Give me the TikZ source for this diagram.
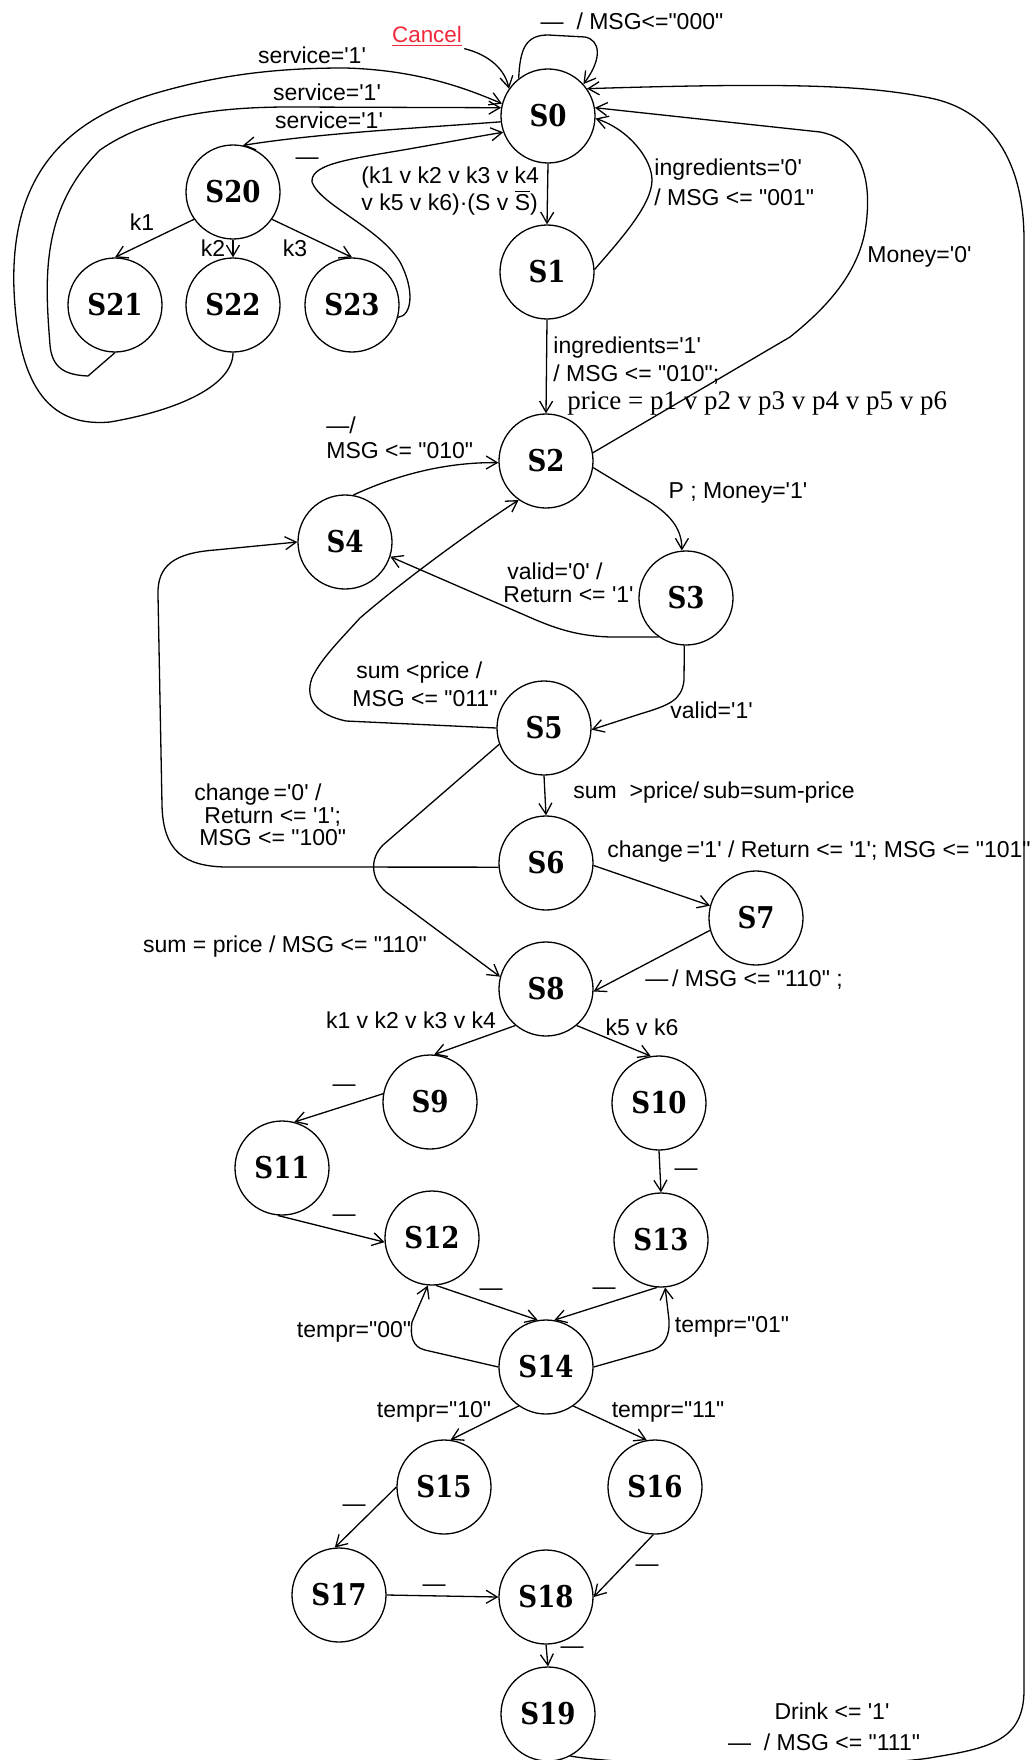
\documentclass[tikz,border=0pt]{standalone}
\usepackage{fontspec}
\setmainfont{Liberation Sans}[Ligatures=TeXOff]
\newfontfamily\statefont{DejaVu Serif}[FakeStretch=0.87]
\newfontfamily\pricefont{Liberation Serif}[Ligatures=TeXOff]
\usetikzlibrary{arrows.meta}
\definecolor{cancelred}{RGB}{240,40,60}

\begin{document}
\begin{tikzpicture}[x=0.5pt,y=-0.5pt,
  st/.style={circle,draw,line width=0.65pt,minimum size=47pt,inner sep=0pt,
    font=\statefont\bfseries\fontsize{15}{18}\selectfont},
  tr/.style={draw,line width=0.65pt,-{Straight Barb[length=5.5pt,width=6.5pt]}},
  lbl/.style={inner sep=0pt,font=\fontsize{11.5}{13}\selectfont},
  ml/.style={lbl,align=left,anchor=west},
  pricelbl/.style={inner sep=0pt,anchor=west,font=\pricefont\fontsize{13.5}{16}\selectfont},
  cancellbl/.style={inner sep=1pt,text=cancelred,font=\fontsize{11.2}{13}\selectfont}
]
\useasboundingbox (0,0) rectangle (1029,1760);

% ---------- states ----------
\node[st] (S0)  at (548,116)  {S0};
\node[st] (S1)  at (547,272)  {S1};
\node[st] (S2)  at (546,461)  {S2};
\node[st] (S3)  at (686,598)  {S3};
\node[st] (S4)  at (345,542)  {S4};
\node[st] (S5)  at (544,728)  {S5};
\node[st] (S6)  at (546,863)  {S6};
\node[st] (S7)  at (756,918)  {S7};
\node[st] (S8)  at (546,989)  {S8};
\node[st] (S9)  at (430,1102) {S9};
\node[st] (S10) at (659,1103) {S10};
\node[st] (S11) at (282,1168) {S11};
\node[st] (S12) at (432,1238) {S12};
\node[st] (S13) at (661,1240) {S13};
\node[st] (S14) at (546,1367) {S14};
\node[st] (S15) at (444,1487) {S15};
\node[st] (S16) at (655,1487) {S16};
\node[st] (S17) at (339,1595) {S17};
\node[st] (S18) at (546,1597) {S18};
\node[st] (S19) at (548,1714) {S19};
\node[st] (S20) at (233,192)  {S20};
\node[st] (S21) at (115,305)  {S21};
\node[st] (S22) at (233,305)  {S22};
\node[st] (S23) at (352,305)  {S23};

% ---------- S0 and its service branch ----------
\draw[tr] (S0.128) .. controls (520,50) and (525,35) .. (548,35) -- (585,37)
  .. controls (600,40) and (603,58) .. (S0.42);
\node[lbl] at (632,21) {—\ \ / MSG<="000"};

\node[cancellbl] (cancel) at (427,36) {\underline{Cancel}};
\draw[tr] (cancel.south east) .. controls (490,55) and (505,70) .. (S0.145);

\draw[tr] (S22.south) .. controls (233,385) and (180,410) .. (110,422)
  .. controls (45,428) and (18,380) .. (14,290)
  .. controls (10,180) and (60,120) .. (160,92)
  .. controls (230,72) and (290,68) .. (345,68)
  .. controls (420,70) and (470,90) .. (S0.165);
\node[lbl] at (312,55) {service='1'};

\draw[tr] (S21.south) -- (88,376) .. controls (65,375) and (52,368) .. (50,345)
  .. controls (45,280) and (40,210) .. (100,150)
  .. controls (150,115) and (220,107) .. (290,107) -- (S0.170);
\node[lbl] at (327,92) {service='1'};

\draw[tr] (S0.187) .. controls (420,128) and (320,133) .. (S20.78);
\node[lbl] at (329,120) {service='1'};

\draw[tr] (S23.-15) .. controls (412,316) and (415,290) .. (400,262)
  .. controls (380,228) and (320,205) .. (312,182)
  .. controls (310,162) and (360,158) .. (420,147)
  .. controls (460,140) and (480,136) .. (S0.200);
\node[lbl] at (307,161) {—};

\draw[tr] (S20.215) -- (S21.north);
\node[lbl] at (142,222) {k1};
\draw[tr] (S20.south) -- (S22.north);
\node[lbl] at (213,248) {k2};
\draw[tr] (S20.-35) -- (S23.north);
\node[lbl] at (295,248) {k3};

% ---------- S0 / S1 / S2 ----------
\draw[tr] (S0.south) -- (S1.north);
\node[ml,font=\fontsize{11.5}{13.5}\selectfont] at (361,191)
  {(k1 v k2 v k3 v k4\\ v k5 v k6)·(S v \ensuremath{\overline{\mbox{S}}})};

\draw[tr] (S1.3) .. controls (620,240) and (652,205) .. (652,180)
  .. controls (652,160) and (630,130) .. (S0.-3);
\node[ml,font=\fontsize{11.5}{15}\selectfont] at (654,182)
  {ingredients='0'\\/ MSG <= "001"};

\draw[tr] (S1.south) -- (S2.north);
\node[ml,font=\fontsize{11.5}{14}\selectfont] at (553,361)
  {ingredients='1'\\/ MSG <= "010";};
\node[pricelbl] at (567,403) {price = p1 v p2 v p3 v p4 v p5 v p6};

\draw[tr] (S2.10) -- (790,337) .. controls (830,305) and (860,270) .. (866,225)
  .. controls (872,180) and (862,140) .. (820,132) -- (S0.10);
\node[ml] at (867,257) {Money='0'};

% ---------- S2 .. S6 ----------
\draw[tr] (S2.-8) -- (640,496) .. controls (665,510) and (682,525) .. (S3.95);
\node[lbl] at (738,493) {P ; Money='1'};

\draw[tr] (S3.235) -- (610,637) .. controls (580,636) and (560,630) .. (536,620) -- (S4.-18);
\node[ml,font=\fontsize{11.5}{11.5}\selectfont] at (503,583)
  {\hspace*{2pt}valid='0' /\\Return <= '1'};

\draw[tr] (S4.80) .. controls (390,478) and (440,462) .. (S2.182);
\node[ml,font=\fontsize{11.5}{12.5}\selectfont] at (326,438) {—/\\MSG <= "010"};

\draw[tr] (S5.west) -- (346,721) .. controls (318,715) and (304,700) .. (312,678)
  .. controls (320,660) and (340,640) .. (360,618)
  .. controls (410,575) and (480,525) .. (S2.235);
\node[ml,font=\fontsize{11.5}{14}\selectfont] at (352,684)
  {\hspace*{2pt}sum <price /\\MSG <= "011"};

\draw[tr] (S3.-92) -- (684,680) .. controls (682,700) and (670,705) .. (640,714) -- (S5.-2);
\node[ml] at (670,710) {valid='1'};

\draw[tr] (S5.south) -- (S6.north);
\node[ml] at (573,793) {sum\ \ >price/\,sub=sum-price};

\draw[tr] (S6.185) -- (225,867) .. controls (185,866) and (163,852) .. (162,805)
  -- (158,595) .. controls (157,565) and (175,553) .. (215,550) -- (S4.west);
\node[ml,font=\fontsize{11.5}{11.3}\selectfont] at (194,815)
  {change\,='0' /\\\hspace*{5pt}Return <= '1';\\\hspace*{2.5pt}MSG <= "100"};

% ---------- S5 .. S8 ----------
\draw[tr] (S5.200) -- (383,845) .. controls (370,858) and (370,878) .. (386,892) -- (S8.165);
\node[lbl] at (285,947) {sum = price / MSG <= "110"};

\draw[tr] (S6.-3) -- (S7.165);
\node[ml] at (607,852) {change\,='1' / Return <= '1'; MSG <= "101"};

\draw[tr] (S7.195) -- (S8.-3);
\node[lbl] at (744,980) {—\,/ MSG <= "110" ;};

% ---------- S8 .. S14 ----------
\draw[tr] (S8.230) -- (S9.85);
\node[lbl] at (411,1020) {k1 v k2 v k3 v k4};
\draw[tr] (S8.-50) -- (S10.100);
\node[lbl] at (642,1027) {k5 v k6};

\draw[tr] (S9.170) -- (S11.75);
\node[lbl] at (344,1088) {—};
\draw[tr] (S11.-95) -- (S12.185);
\node[lbl] at (344,1218) {—};
\draw[tr] (S10.south) -- (S13.north);
\node[lbl] at (686,1172) {—};

\draw[tr] (S12.-85) -- (S14.100);
\node[lbl] at (491,1292) {—};
\draw[tr] (S13.-95) -- (S14.80);
\node[lbl] at (604,1291) {—};

\draw[tr] (S14.west) -- (425,1350) .. controls (412,1347) and (410,1335) .. (412,1322) -- (S12.-95);
\node[lbl] at (354,1332) {tempr="00"};
\draw[tr] (S14.east) -- (650,1351) .. controls (665,1347) and (670,1335) .. (669,1320) -- (S13.-85);
\node[lbl] at (732,1327) {tempr="01"};

% ---------- S14 .. S19 ----------
\draw[tr] (S14.-125) -- (S15.82);
\node[lbl] at (434,1412) {tempr="10"};
\draw[tr] (S14.-55) -- (S16.100);
\node[lbl] at (668,1412) {tempr="11"};

\draw[tr] (S15.180) -- (S17.95);
\node[lbl] at (354,1508) {—};
\draw[tr] (S16.-92) -- (S18.east);
\node[lbl] at (647,1568) {—};
\draw[tr] (S17.east) -- (S18.west);
\node[lbl] at (434,1588) {—};
\draw[tr] (S18.south) -- (S19.north);
\node[lbl] at (572,1650) {—};

% ---------- return to S0 (runs along the lower edge) ----------
\draw[tr] (S19.-62) .. controls (640,1768) and (880,1768) .. (935,1757)
  .. controls (990,1748) and (1024,1740) .. (1024,1690) -- (1024,240)
  .. controls (1024,160) and (990,110) .. (930,98)
  .. controls (870,86) and (800,82) .. (S0.35);
\node[lbl] at (832,1711) {Drink <= '1'};
\node[lbl] at (824,1742) {—\ \ / MSG <= "111"};

\end{tikzpicture}
\end{document}
